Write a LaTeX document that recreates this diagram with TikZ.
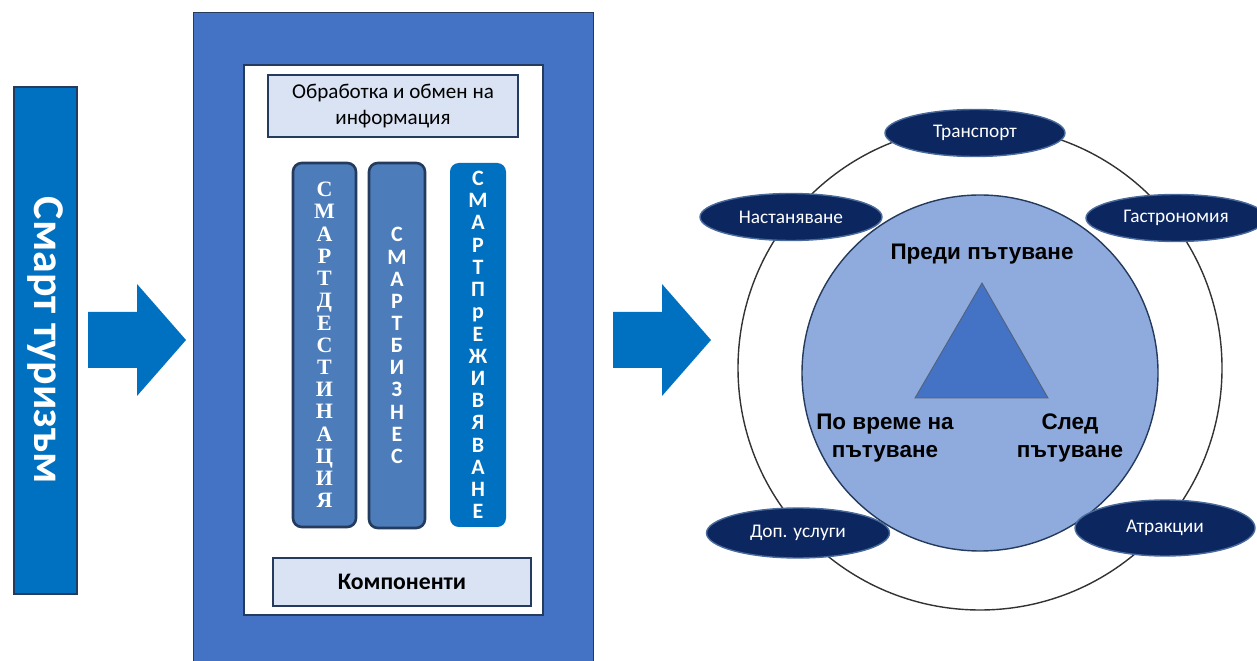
\documentclass[tikz,border=0pt]{standalone}
\usepackage{fontspec}
\setmainfont{Carlito}
\newfontfamily\headfont{Liberation Sans}
\newfontfamily\letterfont{Liberation Serif}
\usetikzlibrary{positioning,shapes.geometric}

\definecolor{oceanblue}{HTML}{0070C0}
\definecolor{slateblue}{HTML}{4472C4}
\definecolor{paleblue}{HTML}{DAE3F3}
\definecolor{navyline}{HTML}{243B5E}
\definecolor{colblue}{HTML}{4C7DBA}
\definecolor{ringblue}{HTML}{8FAADC}
\definecolor{ovalnavy}{HTML}{0C2760}
\definecolor{ovalline}{HTML}{4A6A9C}

\def\pxu{0.02cm}

\tikzset{
    infobox/.style={draw=navyline, line width=1.2pt, fill=paleblue, inner sep=0pt,
        align=center, font=\fontsize{12}{15}\selectfont},
    column/.style={rounded corners=5pt, inner sep=0pt, align=center, text=white},
    oval/.style={ellipse, draw=ovalline, line width=0.8pt, fill=ovalnavy, text=white,
        inner sep=0pt, font=\fontsize{11}{13}\selectfont},
    phase/.style={align=center, font=\headfont\bfseries\fontsize{12.8}{15.5}\selectfont},
    pics/blockarrow/.style={code={
        \fill[oceanblue] (0,0) -- (-49,-56) -- (-49,-28) -- (-98,-28)
            -- (-98,28) -- (-49,28) -- (-49,56) -- cycle;
    }}
}

\begin{document}
\begin{tikzpicture}[x=0.02cm, y=-0.02cm]
    \useasboundingbox (0,0) rectangle (1257,661);

    %% smart tourism bar
    \node[rotate=-90, draw=navyline, line width=1pt, fill=oceanblue, text=white,
        minimum width=507*\pxu, minimum height=63*\pxu, inner sep=0pt,
        font=\bfseries\fontsize{25}{28}\selectfont] (tourism) at (45.5,340.5) {Смарт туризъм};
    \pic at (186,340) {blockarrow};

    %% components panel
    \draw[navyline, fill=slateblue] (193.5,12) rectangle (593,670);
    \node[draw=navyline, line width=1pt, fill=white, minimum width=299*\pxu,
        minimum height=550*\pxu] (panel) at (393.5,340) {};
    \node[infobox, minimum width=250*\pxu, minimum height=62*\pxu] (exchange)
        at (393,106) {Обработка и обмен на\\информация};
    \node[infobox, minimum width=258*\pxu, minimum height=48*\pxu,
        font=\bfseries\fontsize{13.5}{15}\selectfont] (components)
        at (402,582) {Компоненти};

    %% columns
    \node[column, draw=navyline, line width=1.5pt, fill=colblue,
        minimum width=63*\pxu, minimum height=364*\pxu,
        font=\letterfont\bfseries\fontsize{12.5}{12.65}\selectfont] (destination) at (324.5,345)
        {С\\М\\А\\Р\\Т\\Д\\Е\\С\\Т\\И\\Н\\А\\Ц\\И\\Я};
    \node[column, draw=navyline, line width=1.5pt, fill=colblue,
        minimum width=56*\pxu, minimum height=365*\pxu,
        font=\bfseries\fontsize{12.5}{12.6}\selectfont] (business) at (397,345.5)
        {С\\М\\А\\Р\\Т\\Б\\И\\З\\Н\\Е\\С};
    \node[column, fill=oceanblue, minimum width=56*\pxu, minimum height=364*\pxu,
        font=\bfseries\fontsize{12.5}{12.65}\selectfont] (experience) at (478,345)
        {С\\М\\А\\Р\\Т\\П\\р\\Е\\Ж\\И\\В\\Я\\В\\А\\Н\\Е};

    \pic at (711,340) {blockarrow};

    %% trip cycle
    \node[circle, draw=black!80, line width=0.8pt, minimum size=484*\pxu] (ring) at (980,368) {};
    \node[circle, draw=navyline, line width=0.8pt, fill=ringblue, minimum size=356*\pxu] (core) at (980,373) {};
    \draw[fill=slateblue, draw=navyline!80, line width=0.5pt] (982,283) -- (1048,398) -- (915,398) -- cycle;
    \node[phase] (before) at (982,254) {Преди пътуване};
    \node[phase] (during) at (885,438) {По време на\\пътуване};
    \node[phase] (after) at (1070,438) {След\\пътуване};

    %% services
    \node[oval, minimum width=180*\pxu, minimum height=47*\pxu] (transport) at (975,133) {Транспорт};
    \node[oval, minimum width=182*\pxu, minimum height=47*\pxu] (lodging) at (791,217) {Настаняване};
    \node[oval, minimum width=180*\pxu, minimum height=47*\pxu] (food) at (1176,218) {Гастрономия};
    \node[oval, minimum width=183*\pxu, minimum height=50*\pxu] (extras) at (798,533) {Доп. услуги};
    \node[oval, minimum width=180*\pxu, minimum height=56*\pxu] (sights) at (1165,528) {Атракции};
\end{tikzpicture}
\end{document}
